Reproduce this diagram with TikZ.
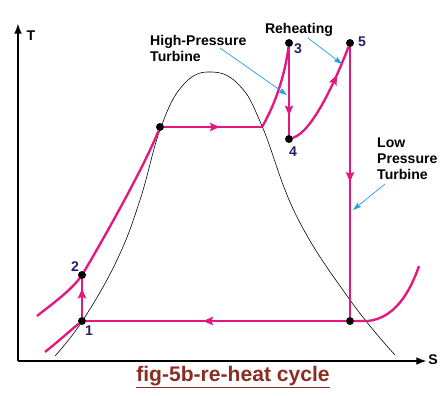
\documentclass[tikz,border=0pt]{standalone}
\usepackage{fontspec}
\setmainfont{Liberation Sans}
\usetikzlibrary{arrows.meta,decorations.markings}
\definecolor{CycPink}{RGB}{228,22,128}
\definecolor{NumNavy}{RGB}{40,30,110}
\definecolor{LeadBlue}{RGB}{30,160,230}
\definecolor{TitleRed}{RGB}{140,45,35}
\tikzset{
  dot/.style={circle,fill=black,inner sep=0pt,minimum size=6.5pt},
  cyc/.style={draw=CycPink,color=CycPink,line width=2pt},
  dome/.style={draw=black,line width=0.5pt},
  axis/.style={draw=black,line width=1.6pt,-{Latex[length=9pt,width=6.5pt]}},
  lead/.style={draw=LeadBlue,line width=0.6pt,-{Stealth[length=7pt,width=4.5pt,inset=1pt]}},
  num/.style={text=NumNavy,font=\bfseries\fontsize{12}{14}\selectfont,inner sep=0pt},
  lab/.style={font=\bfseries\fontsize{12}{13.5}\selectfont,align=left,inner sep=0pt},
}
\tikzset{midarrow/.style={postaction={decorate},decoration={markings,
  mark=at position #1 with {\arrow{Stealth[length=8.5pt,width=7pt,inset=1.5pt]}}}}}

\begin{document}
\begin{tikzpicture}[x=0.03cm,y=-0.03cm]
\useasboundingbox (0,0) rectangle (440,396);
% axes
\coordinate (o) at (18,361);
\coordinate (ttop) at (18,23);
\coordinate (sright) at (427,361);
\draw[axis] (o) -- (ttop);
\draw[axis] (o) -- (sright);
\node[lab] (tlab) at (31,36) {T};
\node[lab] (slab) at (433,360) {S};
% saturation dome
\draw[dome] plot[smooth,tension=0.7] coordinates {(55,356) (83,320) (117,260) (140,200)
  (161,127) (184,84) (212,72) (240,86) (262,126) (297,217) (350,300) (395,355)};
% states
\node[dot] (p1) at (82,321) {};
\node[dot] (p2) at (82,275) {};
\node[dot] (pa) at (160,127) {};
\node[dot] (p3) at (289,43) {};
\node[dot] (p4) at (289,139) {};
\node[dot] (p5) at (350,43) {};
\node[dot] (p6) at (350,321) {};
\coordinate (bend) at (262,127);
\coordinate (tail) at (368,321);
\coordinate (tailend) at (419,266);
\coordinate (lowstart) at (45,352);
\coordinate (upstart) at (37,316);
% cycle
\draw[cyc] (lowstart) .. controls (60,340) and (72,329) .. (p1);
\draw[cyc] (upstart) .. controls (52,304) and (72,290) .. (p2.center)
  .. controls (102,242) and (145,165) .. (pa);
\draw[cyc,midarrow=0.75] (p1) -- (p2);
\draw[cyc,midarrow=0.57] (pa) -- (bend);
\draw[cyc] (bend) .. controls (275,105) and (285,75) .. (p3);
\draw[cyc,midarrow=0.78] (p3) -- (p4);
\draw[cyc,midarrow=0.72] (p4) .. controls (312,132) and (335,82) .. (p5);
\draw[cyc,midarrow=0.5] (p5) -- (p6);
\draw[cyc,midarrow=0.55] (p6) -- (p1);
\draw[cyc] (p6) -- (tail) .. controls (395,318) and (410,292) .. (tailend);
\foreach \p in {p1,p2,pa,p3,p4,p5,p6} \node[dot] at (\p) {};
% state numbers
\node[num] (n1) at (89,331) {1};
\node[num] (n2) at (75,267) {2};
\node[num] (n3) at (298,49) {3};
\node[num] (n4) at (293,152) {4};
\node[num] (n5) at (362,42) {5};
% labels and leaders
\node[lab,anchor=west] (hpt) at (150,48.5) {High-Pressure\\Turbine};
\node[lab] (reh) at (299,30) {Reheating};
\node[lab,anchor=west] (lpt) at (377,159) {Low\\Pressure\\Turbine};
\coordinate (hpfrom) at (220,48);
\coordinate (hpto) at (287,95);
\coordinate (rehfrom) at (308,38);
\coordinate (rehto) at (342,64);
\coordinate (lpfrom) at (385,184);
\coordinate (lpto) at (353,210);
\draw[lead] (hpfrom) -- (hpto);
\draw[lead] (rehfrom) -- (rehto);
\draw[lead] (lpfrom) -- (lpto);
% caption
\node[font=\bfseries\fontsize{18}{20}\selectfont,text=TitleRed,anchor=base,inner sep=0pt]
  (title) at (233,381) {fig-5b-re-heat cycle};
\draw[TitleRed,line width=1.5pt] ([yshift=-5.5pt]title.base west) -- ([yshift=-5.5pt]title.base east);
\end{tikzpicture}
\end{document}
